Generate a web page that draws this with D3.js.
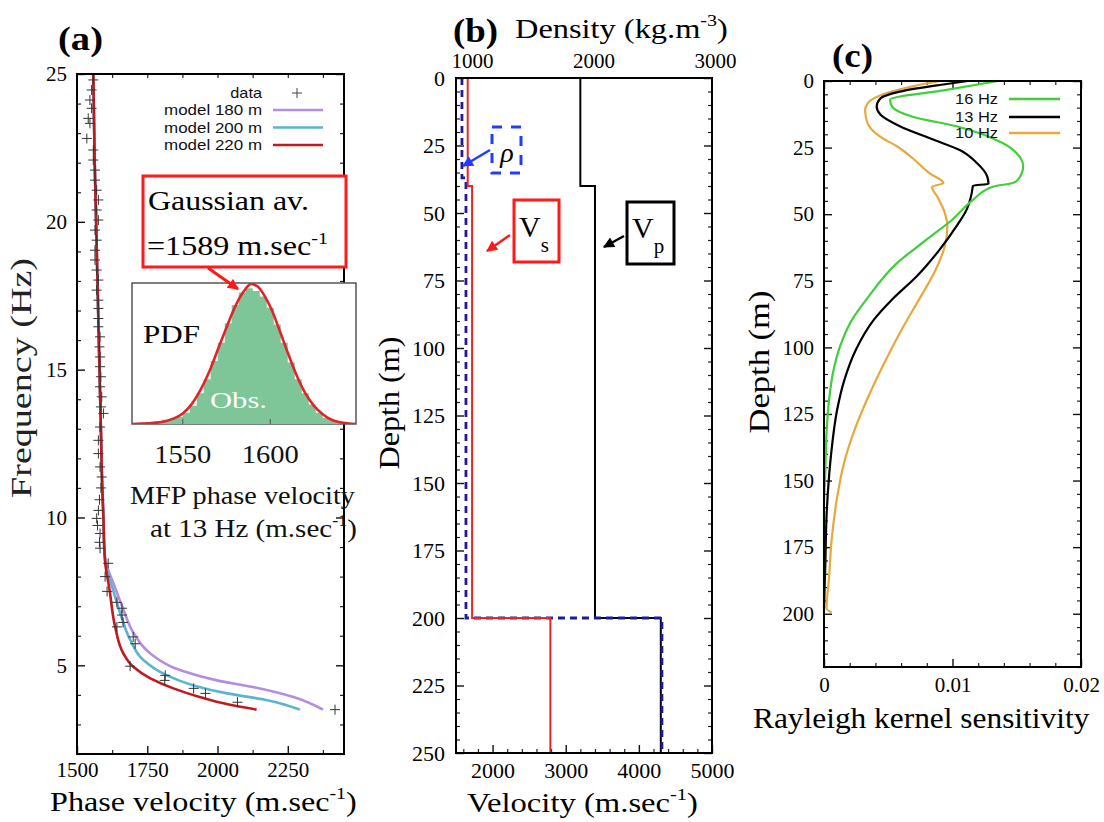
<!DOCTYPE html>
<html>
<head>
<meta charset="utf-8">
<title>Dispersion, velocity model and kernels</title>
<script src="https://cdn.jsdelivr.net/npm/d3@7"></script>
<style>
  body { margin: 0; background: #fff; }
</style>
</head>
<body>
<svg id="fig" width="1104" height="822"></svg>
<script>
// ---------- (a) dispersion: [frequency (Hz), phase velocity (m/s)] ----------
var dispersionObs = [
  [24.8,1558],[24.46,1552],[24.12,1546],[23.84,1552],[23.5,1540],[23.33,1546],[22.82,1535],
  [22.43,1558],[22.09,1558],[21.75,1564],[21.41,1564],[21.07,1570],[20.74,1576],[20.4,1570],
  [20.06,1576],[19.72,1564],[19.38,1570],[19.04,1564],[18.71,1564],[18.37,1570],[18.03,1576],
  [17.69,1570],[17.35,1576],[17.07,1576],[16.73,1576],[16.45,1576],[16.11,1582],[15.77,1580],
  [15.43,1582],[15.1,1582],[14.76,1585],[14.42,1582],[14.08,1588],[13.74,1585],[13.52,1594],
  [13.06,1582],[12.61,1576],[12.16,1576],[11.71,1582],[11.37,1588],[11.0,1585],[10.6,1580],
  [10.24,1576],[9.97,1570],[9.73,1573],[9.46,1582],[9.16,1580],[8.96,1582],[8.45,1611],
  [8.0,1600],[7.5,1607],[7.13,1642],[6.93,1660],[6.7,1660],[6.45,1664],[6.3,1642],
  [5.96,1700],[5.73,1707],[4.97,1689],[4.66,1814],[4.49,1812],[4.22,1915],[4.05,1957],
  [3.75,2071],[3.5,2418]
];
// all three models coincide above ~9 Hz
var modelShared = [[25,1558],[22,1563],[20,1568],[17.5,1574],[15,1580],[13,1585],[11,1590],[10,1594],[9,1597]];
var model180 = [[8.5,1602],[7.77,1630],[6.86,1666],[6.08,1702],[5.4,1761],[4.83,1868],[4.49,1998],[4.26,2130],[3.92,2273],[3.5,2375]];
var model200 = [[8.5,1601],[7.5,1630],[6.75,1654],[5.85,1690],[5.17,1737],[4.66,1820],[4.32,1915],[4.05,2034],[3.82,2177],[3.5,2293]];
var model220 = [[8.5,1600],[7.54,1616],[6.29,1636],[5.4,1665],[4.95,1700],[4.56,1761],[4.22,1843],[3.92,1939],[3.68,2036],[3.5,2139]];
var modelNames = ["model 180 m", "model 200 m", "model 220 m"];
var modelColors = ["#b48de0", "#5cb3cf", "#c01a1e"];

// inset: MFP phase velocity PDF at 13 Hz  [velocity, relative density]
var pdfObs = [
  [1524,0.00],[1528,0.01],[1532,0.01],[1536,0.02],[1540,0.03],[1544,0.04],[1548,0.05],[1552,0.08],
  [1556,0.13],[1560,0.22],[1564,0.32],[1568,0.45],[1572,0.58],[1576,0.72],[1580,0.85],[1584,0.94],
  [1588,0.97],[1592,0.95],[1596,0.91],[1600,0.83],[1604,0.71],[1608,0.58],[1612,0.44],[1616,0.32],
  [1620,0.22],[1624,0.14],[1628,0.08],[1632,0.045],[1636,0.025],[1640,0.01],[1644,0.005],[1648,0.0]
];
var pdfFit = [
  [1521,0],[1530,0.005],[1535,0.01],[1540,0.02],[1545,0.04],[1550,0.075],[1555,0.14],[1560,0.24],
  [1565,0.37],[1570,0.53],[1575,0.69],[1580,0.84],[1585,0.95],[1589,1.0],[1593,0.98],[1597,0.91],
  [1601,0.81],[1605,0.68],[1610,0.51],[1615,0.35],[1620,0.22],[1625,0.13],[1630,0.07],[1635,0.03],
  [1640,0.012],[1645,0.004],[1649,0]
];

var freqTicks = [5, 10, 15, 20, 25];
var phaseTicks = [1500, 1750, 2000, 2250];
var insetTicks = [1550, 1600];

// ---------- (b) layered model ----------
var layerTops = [0, 40, 200];
var rhoTops = [0, 37, 200];
var modelBottom = 250;
var vsLayers = [1660, 1720, 2790];
var vpLayers = [3200, 3400, 4300];
var rhoLayers = [917, 950, 2563];

var depthTicksB = [0, 25, 50, 75, 100, 125, 150, 175, 200, 225, 250];
var velTicks = [2000, 3000, 4000, 5000];
var rhoTicks = [1000, 2000, 3000];

// ---------- (c) Rayleigh kernels: [depth (m), sensitivity] ----------
var kernel16 = [[0,0.01354],[3.5,0.0093],[7,0.00514],[9.6,0.0053],[13.4,0.0069],[17,0.0103],[23.3,0.0139],
  [28.3,0.0152],[32,0.0155],[37,0.0151],[38.3,0.0147],[39.6,0.0132],[44.6,0.0116],[52,0.0100],[59.5,0.0080],
  [68.3,0.0057],[82,0.0033],[89.5,0.0022],[99.6,0.00125],[109.5,0.0007],[119.5,0.0004],[132,0.0002],
  [147,0.0001],[160,0],[200,0]];
var kernel13 = [[0,0.0112],[1.5,0.0090],[4,0.0059],[6.5,0.0044],[9.6,0.0041],[12.7,0.0044],[17,0.0059],
  [22,0.0085],[26,0.0106],[30.8,0.0119],[35.8,0.0127],[38.6,0.0128],[39.3,0.0116],[42,0.0115],[48.3,0.0111],
  [54.6,0.0103],[63.3,0.0090],[73.4,0.0072],[82,0.0053],[89.5,0.0039],[100.7,0.0025],[112,0.0016],
  [124,0.0010],[138,0.0006],[148,0.0004],[163,0.0002],[182,0.0001],[198,0]];
var kernel10 = [[0,0.0090],[2,0.0069],[5,0.0046],[8.4,0.0034],[11,0.0032],[16,0.0034],[21,0.0044],
  [24.6,0.0057],[29,0.0069],[34.6,0.0082],[38.3,0.0093],[39.8,0.0084],[43.3,0.0088],[49.5,0.0094],
  [54.6,0.0096],[62,0.0094],[70.8,0.0087],[82,0.0074],[92,0.0062],[105.8,0.0047],[118,0.0035],
  [132,0.0023],[144.5,0.0015],[157,0.0010],[172,0.0006],[186,0.0004],[198,0.0002],[199.5,0.0006]];
var kernelNames = ["16 Hz", "13 Hz", "10 Hz"];
var kernelColors = ["#3fcf3a", "#000000", "#e7a93b"];

var depthTicksC = [0, 25, 50, 75, 100, 125, 150, 175, 200];
var sensTicks = [0, 0.01, 0.02];

// ---------- drawing ----------
var serif = "'Liberation Serif','Times New Roman',Times,serif";
var sans = "'Liberation Sans',Arial,Helvetica,sans-serif";
var svg = d3.select("#fig");
var defs = svg.append("defs");

function arrowHead(id, color) {
  defs.append("marker").attr("id", id).attr("viewBox", "0 0 10 10")
    .attr("refX", 9).attr("refY", 5).attr("markerWidth", 13).attr("markerHeight", 11)
    .attr("markerUnits", "userSpaceOnUse").attr("orient", "auto")
    .append("path").attr("d", "M0,0L10,5L0,10z").attr("fill", color);
}
arrowHead("ahRed", "#ff1a1a");
arrowHead("ahBlue", "#1f3cff");
arrowHead("ahBlack", "#000");

// text with optional super/subscripts, squeezed or stretched to a width
function say(g, x, y, parts, o) {
  var w = g.append("g").attr("transform", "translate(" + x + "," + y + ")" + (o.rot ? " rotate(" + o.rot + ")" : ""));
  var t = w.append("text").attr("text-anchor", o.anchor || "start")
    .style("font-family", o.family || serif).attr("font-size", o.size)
    .attr("font-weight", o.weight || null).attr("font-style", o.italic ? "italic" : null)
    .attr("fill", o.fill || "#000");
  var shift = 0;
  parts.forEach(function (p) {
    if (typeof p === "string") p = {t: p};
    var want = p.sup ? -o.size * 0.42 : p.sub ? o.size * 0.5 : 0;
    var s = t.append("tspan").text(p.t).attr("dy", want - shift);
    shift = want;
    if (p.sup) s.attr("font-size", o.size * 0.62);
    if (p.sub) s.attr("font-size", o.size * 0.7);
  });
  if (o.width) {
    var bw = t.node().getBBox().width;
    t.attr("transform", "scale(" + (o.width / bw) + ",1)");
  }
  return t;
}

var makers = {left: d3.axisLeft, right: d3.axisRight, top: d3.axisTop, bottom: d3.axisBottom};

function axis(g, orient, scale, tx, ty, major, minor, lab) {
  var mk = makers[orient];
  var m = g.append("g").attr("transform", "translate(" + tx + "," + ty + ")")
    .call(mk(scale).tickValues(minor.filter(function (v) { return major.indexOf(v) < 0; })).tickSize(-4).tickFormat(""));
  m.select(".domain").remove();
  m.selectAll("line").attr("stroke", "#222").attr("stroke-width", 1.2);
  var a = g.append("g").attr("transform", "translate(" + tx + "," + ty + ")")
    .call(mk(scale).tickValues(major).tickSize(-8).tickPadding(lab ? lab.pad : 0)
      .tickFormat(lab ? (lab.fmt || d3.format("d")) : ""));
  a.select(".domain").remove();
  a.selectAll("line").attr("stroke", "#111").attr("stroke-width", 1.4);
  a.selectAll("text").style("font-family", serif).attr("font-size", lab ? lab.size : 0).attr("fill", "#000");
  return a;
}

function frame(g, x0, y0, x1, y1) {
  g.append("rect").attr("x", x0).attr("y", y0).attr("width", x1 - x0).attr("height", y1 - y0)
    .attr("fill", "none").attr("stroke", "#000").attr("stroke-width", 2);
}

// ===== panel (a) =====
var ga = svg.append("g");
var xA = d3.scaleLinear().domain([1500, 2450]).range([77, 344]);
var yA = d3.scaleLinear().domain([2, 25]).range([754, 74]);
var lineA = d3.line().x(function (d) { return xA(d[1]); }).y(function (d) { return yA(d[0]); }).curve(d3.curveMonotoneY);

axis(ga, "left", yA, 77, 0, freqTicks, d3.range(2, 26), {pad: 10, size: 21});
axis(ga, "right", yA, 344, 0, freqTicks, d3.range(2, 26));
axis(ga, "bottom", xA, 0, 754, phaseTicks, d3.range(1500, 2451, 125), {pad: 8, size: 21});
axis(ga, "top", xA, 0, 74, [], d3.range(1625, 2451, 125));

[model180, model200, model220].forEach(function (m, i) {
  ga.append("path").attr("d", lineA(modelShared.concat(m))).attr("fill", "none")
    .attr("stroke", modelColors[i]).attr("stroke-width", 2.6);
});
ga.selectAll(".obs").data(dispersionObs).join("path").attr("class", "obs")
  .attr("d", function (d) { var x = xA(d[1]), y = yA(d[0]); return "M" + (x - 5) + "," + y + "h10M" + x + "," + (y - 5) + "v10"; })
  .attr("stroke", "#333").attr("stroke-width", 1).attr("fill", "none");
frame(ga, 77, 74, 344, 754);

// legend (a)
var legA = ga.append("g");
say(legA, 262, 98, ["data"], {family: sans, size: 14, anchor: "end", width: 32, fill: "#111"});
legA.append("path").attr("d", "M292,93h10M297,88v10").attr("stroke", "#444").attr("stroke-width", 1);
modelNames.forEach(function (n, i) {
  var y = 110 + i * 17.5;
  say(legA, 262, y + 5, [n], {family: sans, size: 14, anchor: "end", width: 98, fill: "#111"});
  legA.append("line").attr("x1", 273).attr("x2", 323).attr("y1", y).attr("y2", y)
    .attr("stroke", modelColors[i]).attr("stroke-width", 2.6);
});

// inset PDF
var xI = d3.scaleLinear().domain([1521, 1649]).range([132, 356]);
var yI = d3.scaleLinear().domain([0, 1]).range([424, 284]);
defs.append("clipPath").attr("id", "insetClip").append("rect")
  .attr("x", 132).attr("y", 283).attr("width", 224).attr("height", 141);
ga.append("rect").attr("x", 132).attr("y", 283).attr("width", 224).attr("height", 141)
  .attr("fill", "#fff").attr("stroke", "#555").attr("stroke-width", 1.5);
var gi = ga.append("g").attr("clip-path", "url(#insetClip)");
gi.append("path").attr("d", d3.area().x(function (d) { return xI(d[0]); }).y0(yI(0)).y1(function (d) { return yI(d[1]); })
  .curve(d3.curveStep)(pdfObs)).attr("fill", "#7ec598");
gi.append("path").attr("d", d3.line().x(function (d) { return xI(d[0]); }).y(function (d) { return yI(d[1]); })
  .curve(d3.curveMonotoneX)(pdfFit)).attr("fill", "none").attr("stroke", "#e3232a").attr("stroke-width", 2.6);
insetTicks.forEach(function (v) {
  ga.append("line").attr("x1", xI(v)).attr("x2", xI(v)).attr("y1", 424).attr("y2", 419).attr("stroke", "#555");
  say(ga, xI(v), 463, [String(v)], {size: 26, anchor: "middle", width: 57, fill: "#111"});
});
say(ga, 143, 343, ["PDF"], {size: 26, width: 57});
say(ga, 210, 408, ["Obs."], {size: 23, width: 57, fill: "#fff"});
say(ga, 130, 504, ["MFP phase velocity"], {size: 26, width: 225, fill: "#111"});
say(ga, 150, 537, ["at 13 Hz (m.sec", {t: "-1", sup: true}, ")"], {size: 26, width: 207, fill: "#111"});

// Gaussian callout
ga.append("rect").attr("x", 143).attr("y", 176).attr("width", 203).attr("height", 91)
  .attr("fill", "#fff").attr("stroke", "#ff1a1a").attr("stroke-width", 3);
say(ga, 148, 210, ["Gaussian av."], {size: 27, width: 161});
say(ga, 147, 255, ["=1589 m.sec", {t: "-1", sup: true}], {size: 27, width: 181});
ga.append("line").attr("x1", 208).attr("y1", 268).attr("x2", 238).attr("y2", 289)
  .attr("stroke", "#ff1a1a").attr("stroke-width", 3).attr("marker-end", "url(#ahRed)");

say(ga, 58, 50, ["(a)"], {size: 34, weight: "bold", width: 45});
say(ga, 31, 378, ["Frequency (Hz)"], {size: 30, anchor: "middle", rot: -90, width: 240, fill: "#222"});
say(ga, 50, 811, ["Phase velocity (m.sec", {t: "-1", sup: true}, ")"], {size: 28, width: 307});

// ===== panel (b) =====
var gb = svg.append("g");
var xV = d3.scaleLinear().domain([1500, 5000]).range([456, 712]);
var xR = d3.scaleLinear().domain([868, 2975]).range([456, 712]);
var yB = d3.scaleLinear().domain([0, 250]).range([78, 753]);

axis(gb, "left", yB, 456, 0, depthTicksB, d3.range(0, 251, 5), {pad: 11, size: 22});
axis(gb, "right", yB, 712, 0, depthTicksB, d3.range(0, 251, 5));
axis(gb, "bottom", xV, 0, 753, velTicks, d3.range(1600, 5000, 200), {pad: 9, size: 22});
axis(gb, "top", xR, 0, 78, rhoTicks, [], {pad: 10, size: 21}).selectAll("line").remove();

function stepPoints(tops, vals) {
  var pts = [];
  vals.forEach(function (v, i) {
    pts.push([v, tops[i]]);
    pts.push([v, i + 1 < tops.length ? tops[i + 1] : modelBottom]);
  });
  return pts;
}
function stepLine(xs) {
  return d3.line().x(function (d) { return xs(d[0]); }).y(function (d) { return yB(d[1]); });
}
gb.append("path").attr("d", stepLine(xV)(stepPoints(layerTops, vpLayers)))
  .attr("fill", "none").attr("stroke", "#000").attr("stroke-width", 2);
gb.append("path").attr("d", stepLine(xR)(stepPoints(rhoTops, rhoLayers)))
  .attr("fill", "none").attr("stroke", "#1c1c9a").attr("stroke-width", 2.8).attr("stroke-dasharray", "7,5");
gb.append("path").attr("d", stepLine(xV)(stepPoints(layerTops, vsLayers)))
  .attr("fill", "none").attr("stroke", "#e5262b").attr("stroke-width", 2);
frame(gb, 456, 78, 712, 753);

// annotations (b)
gb.append("rect").attr("x", 492).attr("y", 127).attr("width", 29).attr("height", 46)
  .attr("fill", "#fff").attr("stroke", "#1f3cff").attr("stroke-width", 3).attr("stroke-dasharray", "10,9");
say(gb, 507, 162, ["\u03c1"], {size: 28, italic: true, anchor: "middle"});
gb.append("line").attr("x1", 490).attr("y1", 150).attr("x2", 463).attr("y2", 166)
  .attr("stroke", "#1f3cff").attr("stroke-width", 2.5).attr("marker-end", "url(#ahBlue)");

gb.append("rect").attr("x", 514).attr("y", 200).attr("width", 45).attr("height", 62)
  .attr("fill", "#fff").attr("stroke", "#ff1a1a").attr("stroke-width", 3);
say(gb, 519, 237, ["V", {t: "s", sub: true}], {size: 30});
gb.append("line").attr("x1", 510).attr("y1", 235).attr("x2", 487).attr("y2", 251)
  .attr("stroke", "#ff1a1a").attr("stroke-width", 2.5).attr("marker-end", "url(#ahRed)");

gb.append("rect").attr("x", 627).attr("y", 202).attr("width", 47).attr("height", 62)
  .attr("fill", "#fff").attr("stroke", "#000").attr("stroke-width", 3);
say(gb, 632, 238, ["V", {t: "p", sub: true}], {size: 30});
gb.append("line").attr("x1", 624).attr("y1", 236).attr("x2", 604).attr("y2", 247)
  .attr("stroke", "#000").attr("stroke-width", 2.5).attr("marker-end", "url(#ahBlack)");

say(gb, 453, 42, ["(b)"], {size: 34, weight: "bold", width: 45});
say(gb, 515, 38, ["Density (kg.m", {t: "-3", sup: true}, ")"], {size: 28, width: 213});
say(gb, 399, 403, ["Depth (m)"], {size: 29, anchor: "middle", rot: -90, width: 133});
say(gb, 467, 812, ["Velocity (m.sec", {t: "-1", sup: true}, ")"], {size: 28, width: 231});

// ===== panel (c) =====
var gc = svg.append("g");
var xC = d3.scaleLinear().domain([0, 0.02]).range([824, 1081]);
var yC = d3.scaleLinear().domain([0, 220]).range([81, 667]);

axis(gc, "left", yC, 824, 0, depthTicksC, d3.range(0, 221, 5), {pad: 10, size: 21});
axis(gc, "right", yC, 1081, 0, depthTicksC, d3.range(0, 221, 5));
axis(gc, "bottom", xC, 0, 667, sensTicks, d3.range(0, 11).map(function (i) { return i * 0.002; }),
  {pad: 10, size: 21, fmt: function (d) { return d === 0 ? "0" : d3.format(".2f")(d); }});
axis(gc, "top", xC, 0, 81, sensTicks, d3.range(0, 11).map(function (i) { return i * 0.002; }));

var lineC = d3.line().x(function (d) { return xC(d[1]); }).y(function (d) { return yC(d[0]); }).curve(d3.curveMonotoneY);
[kernel10, kernel13, kernel16].forEach(function (k, i) {
  gc.append("path").attr("d", lineC(k)).attr("fill", "none")
    .attr("stroke", kernelColors[2 - i]).attr("stroke-width", 2.2);
});
frame(gc, 824, 81, 1081, 667);

kernelNames.forEach(function (n, i) {
  var y = [99, 117, 133][i];
  say(gc, 998, y + 5, [n], {family: sans, size: 15, anchor: "end", width: 43, fill: "#111"});
  gc.append("line").attr("x1", 1009).attr("x2", 1060).attr("y1", y).attr("y2", y)
    .attr("stroke", kernelColors[i]).attr("stroke-width", 2.6);
});

say(gc, 832, 67, ["(c)"], {size: 34, weight: "bold", width: 41});
say(gc, 769, 362, ["Depth (m)"], {size: 29, anchor: "middle", rot: -90, width: 143});
say(gc, 753, 728, ["Rayleigh kernel sensitivity"], {size: 29, width: 337});
</script>
</body>
</html>
